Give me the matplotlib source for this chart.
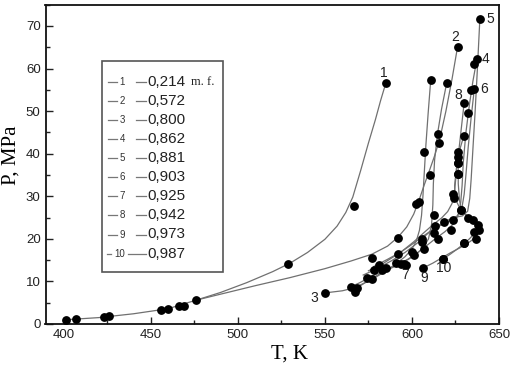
import matplotlib
matplotlib.use("Agg")
import matplotlib.pyplot as plt
from matplotlib.lines import Line2D
from matplotlib.patches import Rectangle

# legend entries
LEG_NUM = ["1", "2", "3", "4", "5", "6", "7", "8", "9", "10"]
LEG_VAL = ["0,214", "0,572", "0,800", "0,862", "0,881",
           "0,903", "0,925", "0,942", "0,973", "0,987"]

# measured points (T, K ; P, MPa) per curve
c1_t = [401, 407, 423, 426, 456, 460, 466, 469, 476, 529, 566.6, 585]
c1_p = [1.0, 1.2, 1.6, 1.9, 3.3, 3.6, 4.3, 4.2, 5.6, 14.2, 27.6, 56.6]
c2_t = [576.8, 592, 602.2, 615.6, 626.2]
c2_p = [15.6, 20.3, 28.3, 42.4, 65.1]
c3_t = [550, 567.5, 577.3, 590.7, 600.3, 604, 607, 610.8]
c3_p = [7.3, 7.5, 10.6, 14.3, 16.9, 28.7, 40.4, 57.4]
c4_t = [568.5, 581, 596.5, 606, 614.7, 622.4, 628, 626.6, 629.7, 635.4, 637.3]
c4_p = [8.5, 13.8, 13.8, 19.2, 20.0, 22.0, 26.7, 35.3, 44.1, 61.0, 62.2]
c5_t = [585, 612.7, 618.5, 632, 626.6, 632, 639]
c5_p = [13.2, 25.5, 24.0, 24.8, 37.7, 49.5, 71.6]
c6_t = [578, 595.5, 606, 623.3, 623.3, 626.6, 633.9, 635.8]
c6_p = [12.8, 14.0, 20.0, 24.4, 30.6, 40.4, 54.9, 55.1]
c7_t = [564.7, 574.4, 583, 593.5, 601.2, 607, 612.7, 610.3, 614.7, 620]
c7_p = [8.7, 10.9, 12.6, 14.2, 16.1, 17.5, 21.4, 35.0, 44.7, 56.7]
c8_t = [592, 613, 624.2, 626.6, 630]
c8_p = [16.5, 23.0, 29.5, 39.2, 52.0]
c9_t = [606.6, 617.6, 630, 636.8, 638.6, 628, 626.6]
c9_p = [13.2, 15.2, 19.0, 20.0, 22.0, 26.7, 37.7]
c10_t = [617.6, 630, 635.8, 637.7, 634.8, 626.6]
c10_p = [15.2, 19.0, 21.6, 23.2, 24.4, 35.3]

# smoothed isochore traces
l1_t = [401, 420, 440, 460, 476, 490, 505, 520, 530, 540, 550, 557, 562, 566,
        570.5, 575, 579, 582, 585]
l1_p = [1.0, 1.5, 2.4, 3.6, 5.6, 7.4, 9.7, 12.3, 14.3, 16.8, 19.9, 23.0, 26.2, 29.8,
        36.0, 42.5, 48.0, 52.5, 56.6]
l2_t = [476, 490, 510, 530, 550, 565, 577, 586, 592, 597, 601, 604, 607, 610,
        613, 616, 619.5, 623, 626.2]
l2_p = [5.6, 7.0, 9.0, 10.9, 13.0, 14.8, 16.4, 18.3, 20.4, 22.8, 25.8, 29.0, 32.6,
        36.0, 39.5, 43.5, 50.0, 57.5, 65.1]
l3_t = [550, 560, 567, 574, 580, 586, 591, 596, 600, 602.5, 604.3, 605.5, 606.3,
        607, 608, 609.3, 610.8]
l3_p = [7.3, 7.8, 8.5, 9.9, 11.2, 12.7, 14.2, 15.8, 17.6, 19.5, 22.0, 25.5, 30.0,
        35.0, 42.0, 49.5, 57.4]
l4_t = [568.5, 575, 582, 590, 598, 606, 613, 619, 623.5, 626.5, 628, 628.8, 629.5,
        631, 633, 635, 637.3]
l4_p = [8.5, 10.2, 11.9, 13.5, 15.3, 17.6, 19.9, 21.7, 23.4, 25.5, 28.5, 32.5, 38.0,
        45.0, 51.5, 57.0, 62.2]
l5_t = [572, 580, 588, 596, 604, 611, 618.5, 624, 629, 632, 633.2, 634, 635, 636.3,
        637.6, 639]
l5_p = [11.5, 13.0, 14.8, 16.8, 19.3, 22.0, 24.0, 25.0, 25.4, 26.5, 29.5, 34.0, 41.0,
        50.0, 60.0, 71.6]
l6_t = [575, 583, 591, 599, 606, 612, 617.5, 622, 626, 628.7, 630, 631, 632.3,
        634, 635.8]
l6_p = [12.5, 14.1, 16.2, 18.4, 20.5, 22.2, 23.4, 24.3, 25.4, 27.3, 30.5, 35.0, 41.5,
        48.5, 55.1]
l7_t = [564.7, 570, 576, 583, 590, 596, 602, 606.5, 609.5, 611.3, 612, 612.3, 613,
        614.7, 617, 620]
l7_p = [8.7, 9.7, 11.0, 12.4, 13.6, 14.7, 16.2, 17.9, 20.0, 23.5, 28.0, 33.0, 38.5,
        44.7, 50.5, 56.7]
l8_t = [578, 586, 594, 601, 607, 612, 617, 620.5, 623, 624.4, 625.5, 627, 628.5, 630]
l8_p = [13.5, 15.2, 17.0, 19.3, 21.5, 23.3, 24.9, 26.4, 28.3, 31.0, 35.5, 41.0, 46.5,
        52.0]
l9_t = [606.6, 612, 617, 622, 628, 632.5, 635.8, 637.5, 637.3, 634.5, 630.5, 627,
        624.8, 624.5, 625.5, 627.5, 629.7]
l9_p = [13.2, 14.3, 15.5, 16.7, 18.0, 19.1, 20.1, 21.5, 23.2, 24.6, 25.9, 27.6, 29.5,
        32.5, 36.5, 41.0, 44.1]
l10_t = [617.6, 622, 626, 630, 633, 635.8, 637.8, 638.2, 637, 634.8, 631.5, 628.8,
         627.3, 626.6, 626.6]
l10_p = [15.2, 16.4, 17.6, 18.9, 20.0, 21.2, 22.2, 23.0, 23.8, 24.5, 25.3, 26.5, 29.0,
         33.0, 40.4]

POINTS = [(c1_t, c1_p), (c2_t, c2_p), (c3_t, c3_p), (c4_t, c4_p), (c5_t, c5_p),
          (c6_t, c6_p), (c7_t, c7_p), (c8_t, c8_p), (c9_t, c9_p), (c10_t, c10_p)]
LINES = [(l1_t, l1_p), (l2_t, l2_p), (l3_t, l3_p), (l4_t, l4_p), (l5_t, l5_p),
         (l6_t, l6_p), (l7_t, l7_p), (l8_t, l8_p), (l9_t, l9_p), (l10_t, l10_p)]

# curve number labels placed near the curve ends
LABEL_POS = {"1": (584, 59), "2": (624.6, 67.4), "3": (544, 6.2), "4": (642, 62.2),
             "5": (644.8, 71.6), "6": (641.4, 55.2), "7": (595.9, 11.4),
             "8": (626.4, 53.8), "9": (606.8, 10.9), "10": (618.3, 13.1)}

W, H = 518, 371
fig = plt.figure(figsize=(W / 100, H / 100), dpi=100)
ax = fig.add_axes([45.5 / W, 1 - 324 / H, 453.5 / W, 319.3 / H])

for lt, lp in LINES:
    ax.plot(lt, lp, color="#707070", lw=0.9, zorder=2, solid_joinstyle="round")
for pt, pp in POINTS:
    ax.plot(pt, pp, "o", color="black", ms=5.3, mec="black", zorder=3, lw=0)

for k, (x, y) in LABEL_POS.items():
    ax.text(x, y, k, fontsize=10, family="Liberation Sans", color="#222222",
            ha="center", va="center")

ax.set_xlim(389.5, 650)
ax.set_ylim(0, 75)
ax.set_xticks(range(400, 651, 50))
ax.set_xticks(range(400, 651, 25), minor=True)
ax.set_yticks(range(0, 71, 10))
ax.set_yticks(range(0, 76, 5), minor=True)
ax.tick_params(which="both", direction="in", top=False, right=False,
               labelsize=9.5, colors="#222222", width=1)
ax.tick_params(which="major", length=5)
ax.tick_params(which="minor", length=3)
for lab in ax.get_xticklabels() + ax.get_yticklabels():
    lab.set_family("Liberation Sans")
for s in ax.spines.values():
    s.set_linewidth(1.3)
    s.set_color("#111111")

ax.set_xlabel("T, K", family="Liberation Serif", fontsize=15, va="center")
ax.set_ylabel("P, MPa", family="Liberation Serif", fontsize=15, va="center")
ax.xaxis.set_label_coords(0.537, -0.094)
ax.yaxis.set_label_coords(-0.075, 0.53)

# hand-drawn style legend box (pixel coords of the original)
def fx(px):
    return px / W


def fy(py):
    return 1 - py / H


fig.patches.append(Rectangle((fx(102.3), fy(272)), fx(223) - fx(102.3), fy(61) - fy(272),
                             transform=fig.transFigure, fill=False,
                             edgecolor="#555555", lw=1.2))
for i, (n, v) in enumerate(zip(LEG_NUM, LEG_VAL)):
    y = 81.7 + i * 19.1
    if len(n) == 1:
        fig.add_artist(Line2D([fx(108), fx(117)], [fy(y), fy(y)], color="#777777", lw=0.9))
        fig.text(fx(122), fy(y), n, fontsize=7, ha="center", va="center",
                 family="Liberation Sans", color="#333333")
    else:
        fig.add_artist(Line2D([fx(107), fx(111)], [fy(y), fy(y)], color="#777777", lw=0.9))
        fig.text(fx(119.5), fy(y), n, fontsize=7, ha="center", va="center",
                 family="Liberation Sans", color="#333333")
    fig.add_artist(Line2D([fx(136 if len(n) == 1 else 128), fx(146)], [fy(y), fy(y)],
                          color="#777777", lw=0.9))
    fig.text(fx(147.5), fy(y), v, fontsize=11, ha="left", va="center",
             family="Liberation Sans", color="#222222")
fig.text(fx(191), fy(81.7), "m. f.", fontsize=9, ha="left", va="center",
         family="Liberation Serif", color="#222222")

fig.savefig("out.png", dpi=100)
